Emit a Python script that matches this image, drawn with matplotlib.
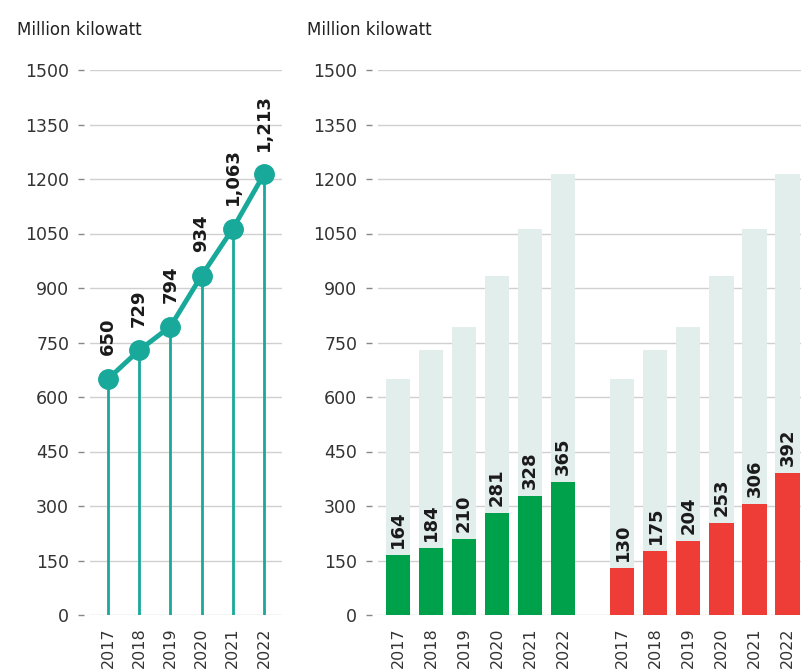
import numpy as np
import matplotlib.pyplot as plt

# data
years = ["2017", "2018", "2019", "2020", "2021", "2022"]
total = [650, 729, 794, 934, 1063, 1213]
total_labels = ["650", "729", "794", "934", "1,063", "1,213"]
green_vals = [164, 184, 210, 281, 328, 365]
red_vals = [130, 175, 204, 253, 306, 392]
yticks = [0, 150, 300, 450, 600, 750, 900, 1050, 1200, 1350, 1500]

teal = "#19a99a"
green = "#00a14b"
red = "#ee3d37"
pale = "#e2eeeb"
txt = "#333333"

fig = plt.figure(figsize=(8.01, 6.69), dpi=100)
bottom = (669 - 615) / 669
height = (615 - 70) / 669


def style_axis(ax):
    for s in ax.spines.values():
        s.set_visible(False)
    ax.spines['left'].set_position(('outward', 4))
    ax.set_ylim(0, 1500)
    ax.set_yticks(yticks)
    ax.set_yticklabels([str(t) for t in yticks])
    ax.tick_params(axis='y', length=4, width=1, color="#888888", pad=7,
                   labelsize=12.5, labelcolor=txt)
    ax.tick_params(axis='x', length=0, pad=9, labelsize=11.5, labelcolor=txt,
                   rotation=90)
    ax.grid(axis='y', color="#d0d0d0", lw=1)
    ax.set_axisbelow(True)


# left panel: total with stems
ax1 = fig.add_axes([90 / 801, bottom, 192 / 801, height])
x = np.arange(len(years))
ax1.vlines(x, 0, total, color=teal, lw=2, zorder=2)
ax1.plot(x, total, color=teal, lw=3.5, marker='o', ms=14, zorder=3, clip_on=False)
for xi, v, lab in zip(x, total, total_labels):
    ax1.annotate(lab, (xi, v), xytext=(0, 17), textcoords='offset points',
                 rotation=90, ha='center', va='bottom', fontsize=13,
                 fontweight='bold', color="#1a1a1a")
ax1.set_xlim(-0.58, 5.58)
ax1.set_xticks(x)
ax1.set_xticklabels(years)
style_axis(ax1)
fig.text(17 / 801, 1 - 30 / 669, "Million kilowatt", fontsize=12, color="#222222",
         va='center', ha='left')

# right panel: two groups of bars over total
ax2 = fig.add_axes([378 / 801, bottom, 423 / 801, height])
xg = np.arange(len(years))
xr = xg + 6.8
w = 0.73
for xs, vals, col in [(xg, green_vals, green), (xr, red_vals, red)]:
    ax2.bar(xs, total, width=w, color=pale, zorder=1)
    ax2.bar(xs, vals, width=w, color=col, zorder=2)
    for xi, v in zip(xs, vals):
        ax2.annotate(str(v), (xi, v), xytext=(0, 5), textcoords='offset points',
                     rotation=90, ha='center', va='bottom', fontsize=13,
                     fontweight='bold', color="#1a1a1a")
ax2.set_xlim(-0.606, 12.21)
ax2.set_xticks(np.concatenate([xg, xr]))
ax2.set_xticklabels(years + years)
style_axis(ax2)
fig.text(307 / 801, 1 - 30 / 669, "Million kilowatt", fontsize=12, color="#222222",
         va='center', ha='left')

fig.savefig("out.png", dpi=100)
